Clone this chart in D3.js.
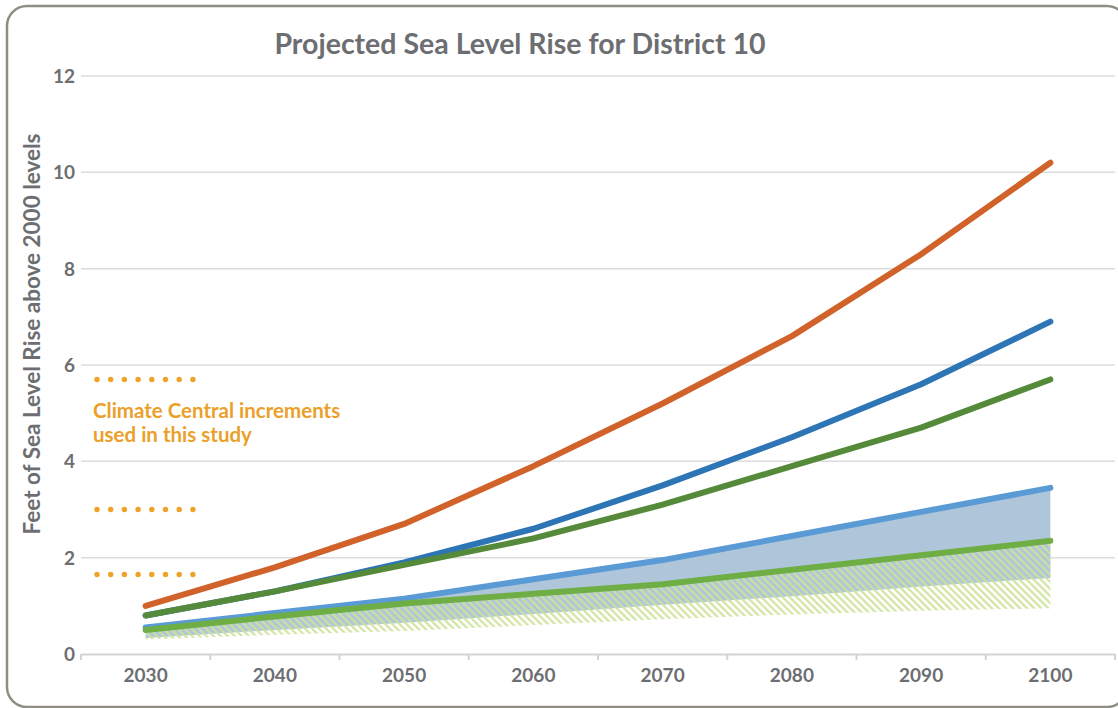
<!DOCTYPE html>
<html><head><meta charset="utf-8">
<script src="https://cdn.jsdelivr.net/npm/d3@7"></script>
<style>body{margin:0;background:#fff}svg{display:block}text{font-family:Lato,"Open Sans",sans-serif;font-weight:700}</style>
</head><body><svg id="c" width="1118" height="708"></svg>
<script>
const years = ["2030","2040","2050","2060","2070","2080","2090","2100"];
const yTicks = [0,2,4,6,8,10,12];
const orange     = [1.0, 1.8, 2.7, 3.9, 5.2, 6.6, 8.3, 10.2];
const darkBlue   = [0.8, 1.3, 1.9, 2.6, 3.5, 4.5, 5.6, 6.9];
const darkGreen  = [0.8, 1.3, 1.85, 2.4, 3.1, 3.9, 4.7, 5.7];
const lightBlue  = [0.55, 0.85, 1.15, 1.55, 1.95, 2.45, 2.95, 3.45];
const lightGreen = [0.5, 0.78, 1.05, 1.25, 1.45, 1.75, 2.05, 2.35];
const blueLow    = [0.33, 0.5, 0.65, 0.83, 1.02, 1.2, 1.4, 1.58];
const greenLow   = [0.3, 0.4, 0.48, 0.6, 0.72, 0.82, 0.9, 0.95];
const increments = [5.7, 3.0, 1.65];

const svg = d3.select("#c");
const x = d3.scaleBand().domain(years).range([81,1115]);
const y = d3.scaleLinear().domain([0,12]).range([654,76]);
const cx = d => x(d)+x.bandwidth()/2;

// frame
svg.append("rect").attr("x",7).attr("y",6).attr("width",1120).attr("height",701).attr("rx",20)
  .attr("fill","#fff").attr("stroke","#8e8e85").attr("stroke-width",2.5);

// hatch pattern
const defs = svg.append("defs");
const pat = defs.append("pattern").attr("id","hatch").attr("patternUnits","userSpaceOnUse")
  .attr("width",5).attr("height",5).attr("patternTransform","rotate(-45)");
pat.append("rect").attr("x",0).attr("y",0).attr("width",2.3).attr("height",5).attr("fill","#cfe39a").attr("opacity",0.9);

// gridlines
svg.append("g").selectAll("line").data(yTicks.filter(d=>d>0)).join("line")
  .attr("x1",81).attr("x2",1115).attr("y1",d=>y(d)).attr("y2",d=>y(d))
  .attr("stroke","#dcdcdc").attr("stroke-width",1.5);

// y tick labels
svg.append("g").selectAll("text").data(yTicks).join("text")
  .attr("x",75).attr("y",d=>y(d)).attr("dy","0.36em").attr("text-anchor","end")
  .attr("font-size",19).attr("fill","#6d6e71").text(d=>d);

// x axis
const xAxis = svg.append("g").attr("transform","translate(0,654)")
  .call(d3.axisBottom(x).tickSize(0).tickPadding(15));
xAxis.select(".domain").attr("stroke","#d3d3d3").attr("stroke-width",2);
xAxis.selectAll("text").attr("font-size",19).attr("fill","#6d6e71").attr("font-family","Lato").attr("font-weight",700);
const bounds = years.map(d=>x(d)).concat([x.range()[1]]);
xAxis.selectAll(".bt").data(bounds).join("line").attr("class","bt")
  .attr("x1",d=>d).attr("x2",d=>d).attr("y1",0).attr("y2",6).attr("stroke","#d3d3d3").attr("stroke-width",2);

const curve = d3.curveLinear;
const idx = d3.range(years.length);
// blue band
svg.append("path").datum(idx).attr("fill","#afc6da")
  .attr("d", d3.area().x(i=>cx(years[i])).y0(i=>y(blueLow[i])).y1(i=>y(lightBlue[i])).curve(curve));
// green hatched band
svg.append("path").datum(idx).attr("fill","url(#hatch)")
  .attr("d", d3.area().x(i=>cx(years[i])).y0(i=>y(greenLow[i])).y1(i=>y(lightGreen[i])).curve(curve));

const line = vals => d3.line().x(i=>cx(years[i])).y(i=>y(vals[i])).curve(curve)(idx);
const series = [
  [lightBlue, "#5b9bd5"],
  [lightGreen, "#6fae45"],
  [darkBlue, "#2e75b6"],
  [darkGreen, "#548a3a"],
  [orange, "#d0622a"]
];
svg.append("g").selectAll("path").data(series).join("path")
  .attr("d",d=>line(d[0])).attr("fill","none").attr("stroke",d=>d[1])
  .attr("stroke-width",6).attr("stroke-linecap","round").attr("stroke-linejoin","round");

// increment dots
const dotX = d3.range(8).map(i=>97+i*13.7);
increments.forEach(v=>{
  svg.append("g").selectAll("circle").data(dotX).join("circle")
    .attr("cx",d=>d).attr("cy",y(v)).attr("r",2.7).attr("fill","#eea227");
});
svg.append("text").attr("x",93).attr("y",418).attr("font-size",20.5).attr("fill","#eba02a").text("Climate Central increments");
svg.append("text").attr("x",93).attr("y",442).attr("font-size",20.5).attr("fill","#eba02a").text("used in this study");

// title
svg.append("text").attr("x",520).attr("y",54).attr("text-anchor","middle").attr("font-size",28.5)
  .attr("fill","#6d6e71").text("Projected Sea Level Rise for District 10");

// y axis title
svg.append("text").attr("transform","translate(40,334) rotate(-90)").attr("text-anchor","middle")
  .attr("font-size",22.5).attr("fill","#6d6e71").text("Feet of Sea Level Rise above 2000 levels");
</script></body></html>
